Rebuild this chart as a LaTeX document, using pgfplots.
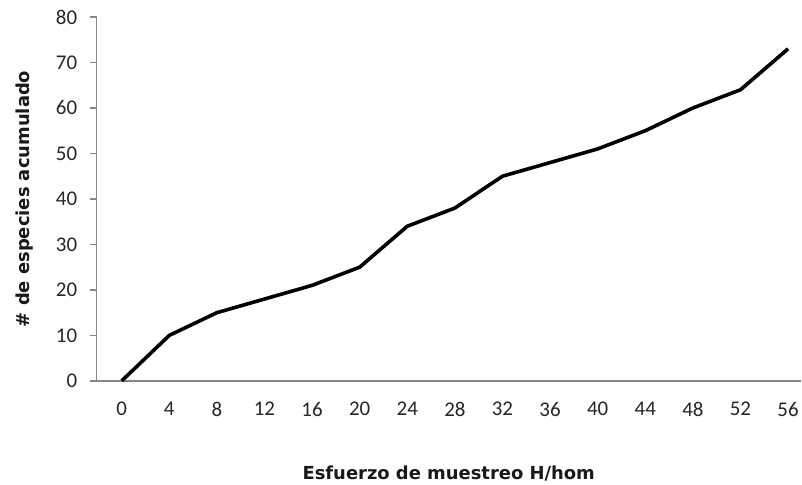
\documentclass[border=0pt]{standalone}
\usepackage{pgfplots}
\pgfplotsset{compat=1.18}
\usepackage{fontspec}
\setmainfont{Carlito}
\newfontfamily\labfont{DejaVu Sans}
\definecolor{axgray}{HTML}{868686}
\begin{document}
\begin{tikzpicture}
\begin{axis}[
  at={(0,0)}, anchor=south west,
  scale only axis,
  width=704.3bp, height=364bp,
  xmin=-2.1, xmax=57.07,
  ymin=0, ymax=80,
  axis x line*=bottom, axis y line*=left,
  axis line style={axgray, line width=1.3bp},
  xtick={0,4,...,56},
  ytick={0,10,...,80},
  major x tick style={draw=none},
  major y tick style={axgray, line width=1.3bp},
  tick align=outside,
  major tick length=7bp,
  /pgf/number format/assume math mode=true,
  tick label style={font=\fontsize{21}{24}\selectfont, text=black!85},
  yticklabel style={xshift=-9bp},
  xticklabel style={yshift=-11bp},
  xlabel={\labfont\bfseries Esfuerzo de muestreo H/hom},
  ylabel={\labfont\bfseries \# de especies acumulado},
  label style={font=\fontsize{18}{21}\selectfont, text=black!90},
  xlabel style={yshift=-42bp},
  ylabel style={yshift=16bp},
  clip=false,
]
\addplot[black, line width=3.6bp, line join=round] coordinates {
  (0,0) (4,10) (8,15) (12,18) (16,21) (20,25) (24,34) (28,38)
  (32,45) (36,48) (40,51) (44,55) (48,60) (52,64) (56,73)
};
\end{axis}
\path (-96.7bp,-98bp) rectangle (705.3bp,381bp);
\end{tikzpicture}
\end{document}
